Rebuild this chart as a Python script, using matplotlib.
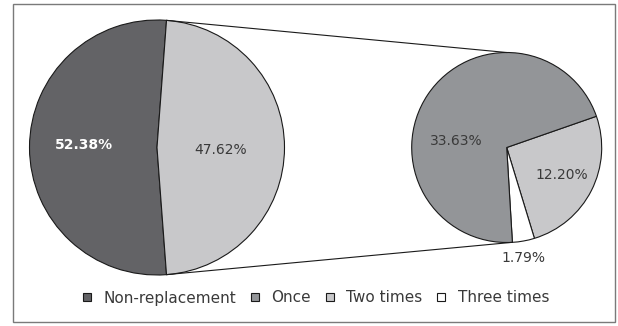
import numpy as np
import matplotlib.pyplot as plt
from matplotlib.patches import Patch, Rectangle

# main pie
main_labels = ['Non-replacement', 'Replacement']
main_values = [52.38, 47.62]
# breakdown of the replacement share
sub_labels = ['Once', 'Two times', 'Three times']
sub_values = [33.63, 12.20, 1.79]

legend_labels = ['Non-replacement', 'Once', 'Two times', 'Three times']
dark = '#636366'
mid = '#939598'
light = '#c8c8ca'
white = '#ffffff'

W, H = 618, 326
fig = plt.figure(figsize=(W / 100, H / 100), dpi=100)
ax = fig.add_axes([0, 0, 1, 1])
ax.set_xlim(0, W)
ax.set_ylim(0, H)
ax.set_aspect('equal')
ax.axis('off')

plt.rcParams['font.family'] = ['DejaVu Sans']

# outer frame
ax.add_patch(Rectangle((13, H - 322), 602, 318, fill=False, edgecolor='#7a7a7a', lw=1.0))

c1 = np.array([157.0, H - 147.5])
r1 = 127.5
c2 = np.array([506.7, H - 147.5])
r2 = 95.0

wedge_kw = dict(edgecolor='#1a1a1a', linewidth=0.8)

# left pie, replacement slice centred on the right side
start1 = main_values[1] / 100 * 180
w1, _ = ax.pie(main_values, colors=[dark, light], startangle=start1,
               center=tuple(c1), radius=r1, wedgeprops=wedge_kw, frame=True)

# right pie, clockwise: two times, three times, once
order = [1, 2, 0]
vals2 = [sub_values[i] for i in order]
cols2 = [[mid, light, white][i] for i in order]
start2 = 19.2
w2, _ = ax.pie(vals2, colors=cols2, startangle=start2, counterclock=False,
               center=tuple(c2), radius=r2, wedgeprops=wedge_kw, frame=True)
ax.set_xlim(0, W)
ax.set_ylim(0, H)
ax.axis('off')

def polar(c, r, ang):
    a = np.deg2rad(ang)
    return c + r * np.array([np.cos(a), np.sin(a)])

# connector lines between the split points and the second pie
top1 = polar(c1, r1, start1)
bot1 = polar(c1, r1, -start1)
top2 = polar(c2, r2, 90)
once_end = start2 - (sub_values[1] + sub_values[2]) / sum(sub_values) * 360
bot2 = polar(c2, r2, once_end)
ax.plot([top1[0], top2[0]], [top1[1], top2[1]], color='#1a1a1a', lw=0.8)
ax.plot([bot1[0], bot2[0]], [bot1[1], bot2[1]], color='#1a1a1a', lw=0.8)

fs = 10
txt = '#3a3a3a'
p = polar(c1, 0.57 * r1, 178)
ax.text(p[0], p[1], f'{main_values[0]:.2f}%', color='white', fontsize=fs,
        fontweight='bold', ha='center', va='center')
p = polar(c1, 0.5 * r1, -2)
ax.text(p[0], p[1], f'{main_values[1]:.2f}%', color=txt, fontsize=fs,
        ha='center', va='center')
p = polar(c2, 0.54 * r2, 172.7)
ax.text(p[0], p[1], f'{sub_values[0]:.2f}%', color=txt, fontsize=fs,
        ha='center', va='center')
p = polar(c2, 0.65 * r2, -26.5)
ax.text(p[0], p[1], f'{sub_values[1]:.2f}%', color=txt, fontsize=fs,
        ha='center', va='center')
p = polar(c2, 1.18 * r2, -81.6)
ax.text(p[0], p[1], f'{sub_values[2]:.2f}%', color=txt, fontsize=fs,
        ha='center', va='center')

handles = [Patch(facecolor=c, edgecolor='#1a1a1a', linewidth=0.8)
           for c in [dark, mid, light, white]]
ax.legend(handles, legend_labels, ncol=4, loc='center',
          bbox_to_anchor=(316 / W, 1 - 298 / H), frameon=False,
          fontsize=11, handlelength=0.55, handleheight=0.4,
          handletextpad=0.8, columnspacing=0.95, labelcolor=txt)

fig.savefig('out.png', dpi=100)
